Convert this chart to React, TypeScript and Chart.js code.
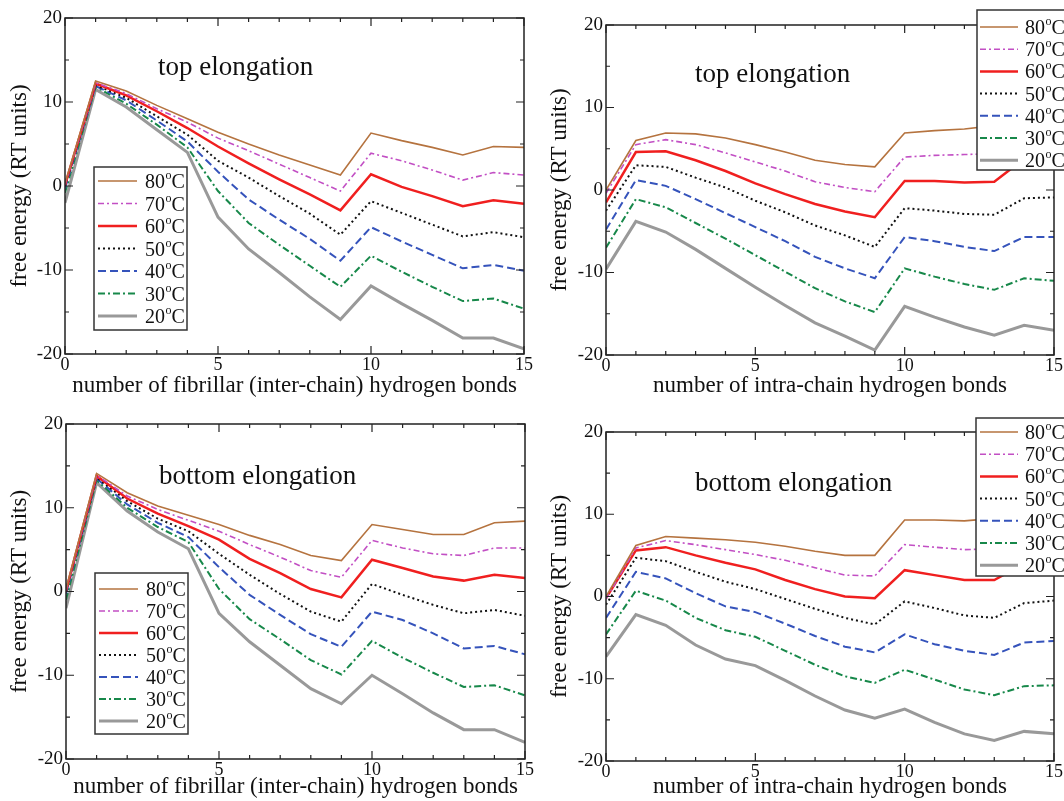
import React, { useEffect, useRef } from "react";
import { Chart, registerables } from "chart.js";

Chart.register(...registerables);

const FONT = "'Liberation Serif', 'Times New Roman', serif";

// x positions (number of hydrogen bonds)
const bonds = [0, 1, 2, 3, 4, 5, 6, 7, 8, 9, 10, 11, 12, 13, 14, 15];
const temperatures = [80, 70, 60, 50, 40, 30, 20];
const xTicksMajor = [0, 5, 10, 15];
const yTicksMajor = [-20, -10, 0, 10, 20];

// top elongation, fibrillar (inter-chain) bonds
const tf80 = [0.3, 12.5, 11.3, 9.6, 8.0, 6.4, 5.0, 3.7, 2.5, 1.3, 6.3, 5.4, 4.6, 3.7, 4.7, 4.6];
const tf70 = [0.2, 12.3, 11.0, 9.2, 7.6, 5.7, 4.2, 2.6, 1.0, -0.6, 3.9, 3.0, 1.9, 0.7, 1.6, 1.3];
const tf60 = [0.1, 12.2, 10.8, 8.9, 6.9, 4.7, 2.7, 0.8, -1.0, -2.9, 1.4, -0.1, -1.2, -2.4, -1.7, -2.1];
const tf50 = [0.0, 12.0, 10.5, 8.3, 6.1, 3.0, 1.0, -1.2, -3.3, -5.8, -1.8, -3.2, -4.6, -6.0, -5.5, -6.1];
const tf40 = [-0.3, 11.9, 10.2, 7.8, 5.3, 1.7, -1.6, -4.0, -6.3, -8.9, -4.9, -6.6, -8.2, -9.8, -9.4, -10.1];
const tf30 = [-0.8, 11.8, 9.8, 7.3, 4.6, -0.6, -4.4, -7.0, -9.5, -12.0, -8.3, -10.2, -12.0, -13.7, -13.4, -14.6];
const tf20 = [-2.0, 11.5, 9.4, 6.7, 4.0, -3.7, -7.5, -10.3, -13.2, -15.9, -11.9, -14.0, -16.0, -18.1, -18.1, -19.4];

// top elongation, intra-chain bonds
const ti80 = [0.0, 6.0, 6.9, 6.8, 6.3, 5.5, 4.6, 3.6, 3.1, 2.8, 6.9, 7.2, 7.4, 7.8, 8.6, 8.5];
const ti70 = [-0.4, 5.5, 6.1, 5.5, 4.5, 3.4, 2.3, 1.0, 0.3, -0.2, 4.0, 4.2, 4.3, 4.4, 5.5, 5.3];
const ti60 = [-1.5, 4.6, 4.7, 3.6, 2.3, 0.8, -0.5, -1.7, -2.6, -3.3, 1.1, 1.1, 0.9, 1.0, 3.8, 3.6];
const ti50 = [-2.5, 3.0, 2.8, 1.5, 0.3, -1.3, -2.7, -4.3, -5.5, -6.9, -2.2, -2.5, -2.9, -3.0, -1.0, -0.9];
const ti40 = [-4.8, 1.2, 0.5, -1.1, -2.8, -4.5, -6.2, -8.1, -9.5, -10.7, -5.7, -6.2, -6.9, -7.4, -5.7, -5.7];
const ti30 = [-7.0, -1.1, -2.1, -4.0, -5.9, -7.9, -9.9, -11.9, -13.5, -14.8, -9.5, -10.5, -11.4, -12.1, -10.7, -11.0];
const ti20 = [-9.6, -3.8, -5.1, -7.2, -9.5, -11.8, -14.0, -16.1, -17.7, -19.4, -14.1, -15.4, -16.6, -17.6, -16.4, -17.0];

// bottom elongation, fibrillar (inter-chain) bonds
const bf80 = [0.3, 14.1, 11.8, 10.2, 9.1, 8.0, 6.7, 5.6, 4.3, 3.7, 8.0, 7.4, 6.8, 6.8, 8.2, 8.4];
const bf70 = [0.2, 13.9, 11.4, 9.8, 8.5, 7.2, 5.6, 4.1, 2.5, 1.7, 6.1, 5.2, 4.5, 4.3, 5.2, 5.2];
const bf60 = [0.1, 13.8, 11.1, 9.3, 7.8, 6.2, 3.9, 2.2, 0.3, -0.7, 3.8, 2.8, 1.8, 1.3, 2.0, 1.6];
const bf50 = [0.0, 13.6, 10.8, 8.7, 7.2, 4.5, 2.0, -0.3, -2.4, -3.6, 0.9, -0.4, -1.6, -2.6, -2.2, -2.9];
const bf40 = [-0.3, 13.5, 10.4, 8.2, 6.5, 2.9, -0.4, -2.8, -5.1, -6.6, -2.4, -3.4, -5.0, -6.8, -6.5, -7.5];
const bf30 = [-1.0, 13.3, 10.0, 7.7, 5.9, 0.3, -3.3, -5.7, -8.2, -9.9, -5.9, -7.9, -9.7, -11.4, -11.2, -12.4];
const bf20 = [-2.0, 13.0, 9.6, 7.1, 5.1, -2.6, -6.0, -8.8, -11.6, -13.4, -10.0, -12.2, -14.5, -16.5, -16.5, -18.0];

// bottom elongation, intra-chain bonds
const bi80 = [0.0, 6.2, 7.3, 7.1, 6.9, 6.6, 6.1, 5.5, 5.0, 5.0, 9.3, 9.3, 9.2, 9.5, 10.0, 10.0];
const bi70 = [-0.3, 5.9, 6.8, 6.3, 5.7, 5.1, 4.4, 3.5, 2.6, 2.5, 6.3, 6.0, 5.7, 5.8, 6.5, 6.5];
const bi60 = [-0.2, 5.6, 6.0, 5.0, 4.1, 3.3, 2.0, 0.9, 0.0, -0.2, 3.2, 2.6, 2.0, 2.0, 4.0, 4.2];
const bi50 = [-1.0, 4.7, 4.3, 3.0, 1.8, 0.9, -0.3, -1.5, -2.6, -3.4, -0.6, -1.4, -2.3, -2.6, -0.8, -0.5];
const bi40 = [-2.6, 3.0, 2.2, 0.4, -1.2, -1.9, -3.3, -4.8, -6.1, -6.8, -4.6, -5.8, -6.6, -7.1, -5.6, -5.4];
const bi30 = [-4.6, 0.7, -0.5, -2.6, -4.1, -4.9, -6.6, -8.3, -9.7, -10.5, -8.9, -10.1, -11.3, -12.0, -10.9, -10.8];
const bi20 = [-7.3, -2.2, -3.5, -5.9, -7.6, -8.4, -10.2, -12.1, -13.8, -14.8, -13.7, -15.3, -16.7, -17.5, -16.4, -16.7];

const topFibrillar = [tf80, tf70, tf60, tf50, tf40, tf30, tf20];
const topIntra = [ti80, ti70, ti60, ti50, ti40, ti30, ti20];
const bottomFibrillar = [bf80, bf70, bf60, bf50, bf40, bf30, bf20];
const bottomIntra = [bi80, bi70, bi60, bi50, bi40, bi30, bi20];

const styles = [
  { color: "#b5733f", width: 1.6, dash: [] as number[] },
  { color: "#c24fc4", width: 1.6, dash: [6, 3, 2, 3] },
  { color: "#f01f1f", width: 2.5, dash: [] as number[] },
  { color: "#111111", width: 2, dash: [2, 3] },
  { color: "#3553bb", width: 2, dash: [8, 4] },
  { color: "#17884a", width: 2, dash: [7, 3, 2, 3] },
  { color: "#999999", width: 3, dash: [] as number[] },
];

type Panel = {
  left: number; top: number; w: number; h: number;
  series: number[][];
  xTitle: string;
  note: string; noteX: number; noteY: number;
  yw: number; xh: number; padTop: number; padRight: number;
  legend: { x: number; y: number; w: number; h: number; row0: number; step: number; l1: number; l2: number; tx: number };
};

const panels: Panel[] = [
  {
    left: 0, top: 0, w: 540, h: 400, series: topFibrillar,
    xTitle: "number of fibrillar (inter-chain) hydrogen bonds",
    note: "top elongation", noteX: 158, noteY: 75,
    yw: 65, xh: 46, padTop: 18, padRight: 16,
    legend: { x: 94, y: 167, w: 93, h: 163, row0: 181, step: 22.5, l1: 98, l2: 137, tx: 145 },
  },
  {
    left: 540, top: 0, w: 524, h: 400, series: topIntra,
    xTitle: "number of intra-chain hydrogen bonds",
    note: "top elongation", noteX: 155, noteY: 82,
    yw: 66, xh: 45, padTop: 25, padRight: 10,
    legend: { x: 437, y: 10, w: 110, h: 160, row0: 27, step: 22.2, l1: 440, l2: 478, tx: 485 },
  },
  {
    left: 0, top: 400, w: 540, h: 401, series: bottomFibrillar,
    xTitle: "number of fibrillar (inter-chain) hydrogen bonds",
    note: "bottom elongation", noteX: 159, noteY: 84,
    yw: 66, xh: 42, padTop: 24, padRight: 15,
    legend: { x: 95, y: 173, w: 93, h: 161, row0: 189, step: 22, l1: 99, l2: 138, tx: 146 },
  },
  {
    left: 540, top: 400, w: 524, h: 401, series: bottomIntra,
    xTitle: "number of intra-chain hydrogen bonds",
    note: "bottom elongation", noteX: 155, noteY: 91,
    yw: 66, xh: 40, padTop: 32, padRight: 10,
    legend: { x: 436, y: 18, w: 110, h: 158, row0: 32, step: 22.2, l1: 440, l2: 478, tx: 485 },
  },
];

function makeDecorPlugin(p: Panel) {
  return {
    id: "decor",
    afterDatasetsDraw(chart: any) {
      const ctx = chart.ctx as CanvasRenderingContext2D;
      const a = chart.chartArea;
      const xs = chart.scales.x;
      const ys = chart.scales.y;
      ctx.save();
      ctx.strokeStyle = "#222";
      ctx.lineWidth = 1.5;
      ctx.setLineDash([]);
      ctx.strokeRect(a.left, a.top, a.right - a.left, a.bottom - a.top);
      ctx.lineWidth = 1.2;
      ctx.beginPath();
      for (let v = 0; v <= 15; v++) {
        const px = xs.getPixelForValue(v);
        const len = v % 5 === 0 ? 8 : 4;
        ctx.moveTo(px, a.bottom); ctx.lineTo(px, a.bottom - len);
        ctx.moveTo(px, a.top); ctx.lineTo(px, a.top + len);
      }
      for (let v = -20; v <= 20; v += 5) {
        const py = ys.getPixelForValue(v);
        const len = v % 10 === 0 ? 8 : 4;
        ctx.moveTo(a.left, py); ctx.lineTo(a.left + len, py);
        ctx.moveTo(a.right, py); ctx.lineTo(a.right - len, py);
      }
      ctx.stroke();

      // annotation
      ctx.fillStyle = "#111";
      ctx.font = `27px ${FONT}`;
      ctx.textAlign = "left";
      ctx.textBaseline = "alphabetic";
      ctx.fillText(p.note, p.noteX, p.noteY);

      // legend
      const L = p.legend;
      ctx.fillStyle = "#fff";
      ctx.fillRect(L.x, L.y, L.w, L.h);
      ctx.strokeStyle = "#333";
      ctx.lineWidth = 1.5;
      ctx.strokeRect(L.x, L.y, L.w, L.h);
      temperatures.forEach((t, i) => {
        const y = L.row0 + i * L.step;
        const st = styles[i];
        ctx.strokeStyle = st.color;
        ctx.lineWidth = st.width;
        ctx.setLineDash(st.dash);
        ctx.beginPath();
        ctx.moveTo(L.l1, y);
        ctx.lineTo(L.l2, y);
        ctx.stroke();
        ctx.setLineDash([]);
        ctx.fillStyle = "#111";
        ctx.textBaseline = "alphabetic";
        ctx.font = `20px ${FONT}`;
        const base = y + 7;
        const num = String(t);
        ctx.fillText(num, L.tx, base);
        let x = L.tx + ctx.measureText(num).width;
        ctx.font = `12px ${FONT}`;
        ctx.fillText("o", x + 0.5, base - 9);
        x += ctx.measureText("o").width + 0.5;
        ctx.font = `20px ${FONT}`;
        ctx.fillText("C", x, base);
      });
      ctx.restore();
    },
  };
}

function PanelChart({ p }: { p: Panel }) {
  const ref = useRef<HTMLCanvasElement | null>(null);
  useEffect(() => {
    if (!ref.current) return;
    const datasets = p.series.map((s, i) => ({
      label: `${temperatures[i]}°C`,
      data: bonds.map((x, k) => ({ x, y: s[k] })),
      borderColor: styles[i].color,
      borderWidth: styles[i].width,
      borderDash: styles[i].dash,
      pointRadius: 0,
      fill: false,
      tension: 0,
    }));
    const chart = new Chart(ref.current, {
      type: "line",
      data: { datasets },
      plugins: [makeDecorPlugin(p)],
      options: {
        responsive: false,
        animation: false,
        devicePixelRatio: 1,
        layout: { padding: { left: 0, right: p.padRight, top: p.padTop, bottom: 0 } },
        plugins: { legend: { display: false }, tooltip: { enabled: false } },
        scales: {
          x: {
            type: "linear", min: 0, max: 15,
            afterBuildTicks: (s: any) => { s.ticks = xTicksMajor.map((v) => ({ value: v })); },
            ticks: { padding: 0, color: "#111", font: { family: FONT, size: 18 } },
            grid: { display: false, drawTicks: false },
            border: { display: false },
            title: { display: true, text: p.xTitle, color: "#111", font: { family: FONT, size: 23 }, padding: { top: 0, bottom: 0 } },
            afterFit: (s: any) => { s.height = p.xh; },
          },
          y: {
            type: "linear", min: -20, max: 20,
            afterBuildTicks: (s: any) => { s.ticks = yTicksMajor.map((v) => ({ value: v })); },
            ticks: { padding: 3, color: "#111", font: { family: FONT, size: 19 } },
            grid: { display: false, drawTicks: false },
            border: { display: false },
            title: { display: true, text: "free energy (RT units)", color: "#111", font: { family: FONT, size: 23 }, padding: { top: 6, bottom: 0 } },
            afterFit: (s: any) => { s.width = p.yw; },
          },
        },
      } as any,
    });
    return () => chart.destroy();
  }, [p]);
  return (
    <canvas
      ref={ref}
      width={p.w}
      height={p.h}
      style={{ position: "absolute", left: p.left, top: p.top, width: p.w, height: p.h }}
    />
  );
}

export default function App() {
  return (
    <div style={{ position: "absolute", left: 0, top: 0, width: 1064, height: 801, background: "#fff", overflow: "hidden" }}>
      {panels.map((p, i) => (
        <PanelChart key={i} p={p} />
      ))}
    </div>
  );
}
